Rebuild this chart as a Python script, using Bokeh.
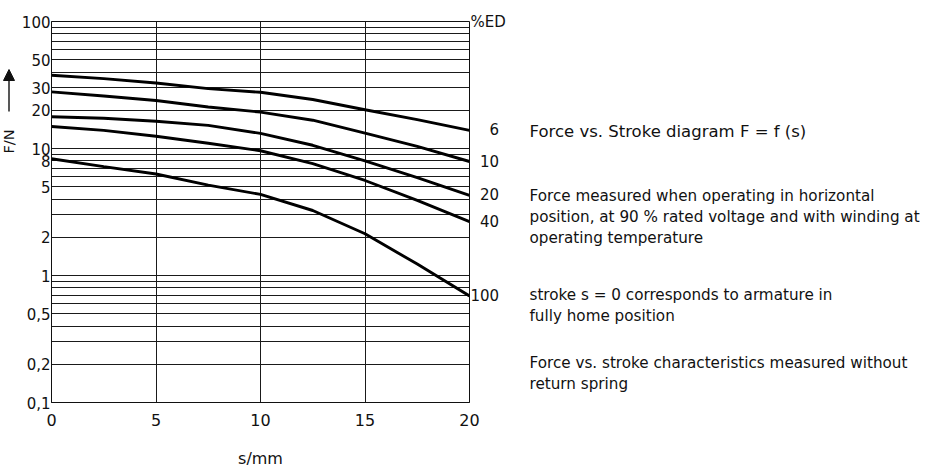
from bokeh.plotting import figure
from bokeh.layouts import row
from bokeh.models import FixedTicker, LogAxis, Arrow, NormalHead, Range1d
from bokeh.core.properties import value
from bokeh.embed import file_html
from bokeh.resources import INLINE

# ---- data ----
s_mm = [0, 2.5, 5, 7.5, 10, 12.5, 15, 17.5, 20]
f_ed6 = [37.7, 35.5, 32.8, 29.6, 27.7, 24.3, 20.2, 16.9, 13.9]
f_ed10 = [27.9, 25.9, 23.9, 21.2, 19.35, 16.7, 13.2, 10.4, 7.9]
f_ed20 = [17.8, 17.3, 16.4, 15.2, 13.15, 10.6, 8.0, 5.9, 4.27]
f_ed40 = [14.9, 13.9, 12.5, 11.0, 9.6, 7.6, 5.6, 3.9, 2.66]
f_ed100 = [8.3, 7.2, 6.3, 5.15, 4.35, 3.25, 2.13, 1.23, 0.69]
series = [f_ed6, f_ed10, f_ed20, f_ed40, f_ed100]
ed_labels = ["6", "10", "20", "40", "100"]
ed_title = "%ED"

x_ticks = [0, 5, 10, 15, 20]
y_ticks = [0.1, 0.2, 0.5, 1, 2, 5, 8, 10, 20, 30, 50, 100]
y_tick_text = {0.1: "0,1", 0.2: "0,2", 0.5: "0,5", 1: "1", 2: "2", 5: "5",
               8: "8", 10: "10", 20: "20", 30: "30", 50: "50", 100: "100"}
y_grid = [m * d for d in (0.1, 1, 10) for m in range(1, 10)] + [100]

notes_title = "Force vs. Stroke diagram F = f (s)"
notes_lines = [
    ["Force measured when operating in horizontal",
     "position, at 90 % rated voltage and with winding at",
     "operating temperature"],
    ["stroke s = 0 corresponds to armature in",
     "fully home position"],
    ["Force vs. stroke characteristics measured without",
     "return spring"],
]

FONT = "DejaVu Sans"
INK = "#111111"
H = 470
TOP, BOTTOM = 21, 68          # frame spans page y 21 .. 402
FH = H - TOP - BOTTOM
FIGSP = "\u2007"              # figure space, keeps ED labels flush right

# ---------------- main chart ----------------
p = figure(frame_width=418, frame_height=FH, x_range=Range1d(0, 20),
           y_range=Range1d(0.1, 100), y_axis_type="log", output_backend="svg",
           toolbar_location=None, min_border_left=34, min_border_right=46,
           min_border_top=TOP, min_border_bottom=BOTTOM)
p.background_fill_color = "white"
p.border_fill_color = "white"
p.outline_line_color = INK
p.outline_line_width = 1

p.xaxis.ticker = FixedTicker(ticks=x_ticks)
p.yaxis.ticker = FixedTicker(ticks=y_ticks)
p.yaxis.major_label_overrides = dict(y_tick_text)
p.xgrid.ticker = FixedTicker(ticks=x_ticks)
p.ygrid.ticker = FixedTicker(ticks=y_grid)
for g in (p.xgrid, p.ygrid):
    g.grid_line_color = "#1a1a1a"
    g.grid_line_width = 1

# right-hand axis carrying the %ED labels at the curve ends
ed_ticks = [ys[-1] for ys in series] + [100]
ed_text = {ys[-1]: FIGSP * (3 - len(lab)) + lab for ys, lab in zip(series, ed_labels)}
ed_text[100] = ed_title
rax = LogAxis(ticker=FixedTicker(ticks=ed_ticks), major_label_overrides=ed_text)
p.add_layout(rax, "right")

for ax in (p.xaxis[0], p.yaxis[0], rax):
    ax.major_tick_out = 0
    ax.major_tick_in = 0
    ax.minor_tick_out = 0
    ax.minor_tick_in = 0
    ax.axis_line_color = INK
    ax.major_label_text_font = FONT
    ax.major_label_text_font_size = "16px"
    ax.major_label_text_color = INK
p.yaxis.major_label_text_font_size = "15px"
rax.axis_line_color = None
rax.major_label_standoff = 3
p.yaxis.major_label_standoff = 1
p.xaxis.major_label_standoff = 11
p.xaxis.axis_label = "s/mm"
p.xaxis.axis_label_text_font = FONT
p.xaxis.axis_label_text_font_style = "normal"
p.xaxis.axis_label_text_font_size = "16px"
p.xaxis.axis_label_text_color = INK
p.xaxis.axis_label_standoff = 20

for ys in series:
    p.line(s_mm, ys, line_color="black", line_width=2.9)

# ---------------- y caption strip (F/N with arrow) ----------------
lw = 17
L = figure(width=lw, height=H, x_range=Range1d(0, lw), y_range=Range1d(H - BOTTOM, TOP),
           output_backend="svg", toolbar_location=None, min_border_left=0,
           min_border_right=0, min_border_top=TOP, min_border_bottom=BOTTOM)
L.axis.visible = False
L.grid.visible = False
L.outline_line_color = None
L.text(x=[8.5], y=[141], text=["F/N"], angle=1.5708, text_font=value(FONT),
       text_font_size="14.5px", text_align="center", text_baseline="middle",
       text_color=INK)
L.add_layout(Arrow(x_start=8.5, y_start=111, x_end=8.5, y_end=69,
                   line_color=INK, line_width=1.4,
                   end=NormalHead(size=11, fill_color=INK, line_color=INK)))

# ---------------- notes panel ----------------
W2 = 430
q = figure(width=W2, height=H, x_range=Range1d(0, W2), y_range=Range1d(H - BOTTOM, TOP),
           output_backend="svg", toolbar_location=None, min_border_left=0,
           min_border_right=0, min_border_top=TOP, min_border_bottom=BOTTOM)
q.axis.visible = False
q.grid.visible = False
q.outline_line_color = None

q.text(x=[14], y=[131], text=[notes_title], text_font=value(FONT),
       text_font_size="16.5px", text_baseline="middle", text_color=INK)
starts = [195, 294, 362]
for y0, lines in zip(starts, notes_lines):
    q.text(x=[14] * len(lines), y=[y0 + 21 * i for i in range(len(lines))], text=lines,
           text_font=value(FONT), text_font_size="15.2px", text_baseline="middle",
           text_color=INK)

layout = row(L, p, q)
open("out.html", "w").write(file_html(layout, INLINE))
